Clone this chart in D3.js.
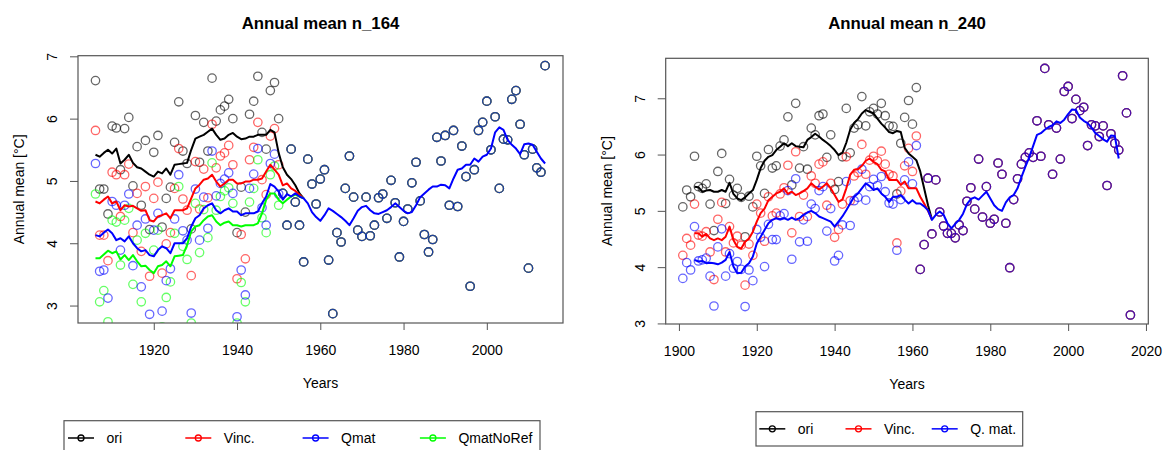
<!DOCTYPE html>
<html>
<head>
<meta charset="utf-8">
<script src="https://cdn.jsdelivr.net/npm/d3@7"></script>
<style>
  body { margin: 0; background: #fff; }
  text { font-family: "Liberation Sans", Arial, sans-serif; fill: #000; }
</style>
</head>
<body>
<svg id="chart" width="1165" height="450"></svg>
<script>
// ---- station n_164 : yearly annual means, one value per year ----
var n164Start = 1906;
var n164Ori = [6.61, 4.87, 4.87, 4.47, 5.88, 5.85, 5.18, 5.84, 6.02, 4.92,
               5.55, 4.61, 5.65, 4.22, 5.46, 5.73, 4.26, 4.72, 4.90, 5.62,
               6.27, 5.48, 5.28, 4.23, 6.05, 5.30, 5.94, 5.48, 6.65, 5.96,
               6.14, 6.20, 6.31, 6.00, 4.17, 4.90, 4.50, 6.07, 6.28, 6.68,
               5.78, 5.51, 6.45, 6.58, 6.00];
var n164Vinc = [5.81, 4.13, 4.13, 3.72, 5.14, 5.10, 4.43, 5.10, 5.27, 4.17,
                4.80, 3.87, 4.91, 3.47, 4.72, 4.98, 3.52, 3.99, 4.17, 4.88,
                5.52, 4.71, 4.53, 3.48, 5.31, 4.55, 5.19, 4.73, 5.91, 5.21,
                5.40, 5.45, 5.57, 5.26, 3.43, 4.14, 3.75, 5.34, 5.54, 5.94,
                5.02, 4.78, 5.72, 5.84, 5.26];
var n164Qmat = [5.28, 3.55, 3.57, 3.12, 4.67, 4.61, 3.89, 4.61, 4.79, 3.64,
                4.29, 3.30, 4.39, 2.86, 4.21, 4.48, 2.91, 3.40, 3.59, 4.39,
                5.10, 4.20, 4.05, 2.88, 4.87, 4.05, 4.74, 4.24, 5.48, 4.76,
                4.96, 5.03, 5.13, 4.80, 2.82, 3.57, 3.17, 4.88, 5.11, 5.52,
                4.57, 4.29, 5.28, 5.43, 4.79];
var n164NoRef = [4.79, 3.06, 3.24, 2.74, 4.37, 4.34, 3.65, 4.37, 4.56, 3.34,
                 4.05, 3.06, 4.16, 2.60, 3.89, 4.21, 2.66, 3.13, 3.38, 4.16,
                 4.91, 3.95, 3.74, 2.72, 4.64, 3.85, 4.54, 4.09, 5.29, 4.53,
                 4.75, 4.84, 4.89, 4.64, 2.72, 3.37, 3.06, 4.66, 4.88, 5.34,
                 4.41, 4.17, 5.10, 5.24, 4.61];
// after 1950 all four versions are identical
var n164CommonStart = 1951;
var n164Common = [4.80, 4.29, 5.51, 4.66, 4.29, 3.70, 5.35, 4.95, 4.63, 5.03,
                  5.18, 3.73, 2.87, 4.17, 4.02, 4.88, 5.40, 4.74, 4.21, 4.11,
                  4.74, 4.12, 4.29, 4.73, 4.79, 4.40, 5.01, 4.65, 3.78, 4.35,
                  4.55, 4.97, 5.30, 4.68, 4.14, 3.86, 4.06, 5.70, 5.32, 5.73,
                  4.61, 5.81, 4.59, 5.56, 5.07, 3.31, 5.18, 5.81, 5.94, 6.28,
                  5.50, 6.03, 4.88, 5.67, 5.66, 6.31, 6.45, 5.91, 5.42, 3.60,
                  5.51, 5.21, 5.14, 6.85];

// smoothed curves n_164
var n164LineStart = 1906;
var n164OriLine = [5.42, 5.39, 5.45, 5.50, 5.44, 5.52, 5.28, 5.34, 5.42, 5.29,
                   5.22, 5.20, 5.15, 5.10, 5.07, 5.15, 5.12, 5.20, 5.10, 5.26,
                   5.27, 5.28, 5.29, 5.50, 5.68, 5.71, 5.74, 5.79, 5.84, 5.74,
                   5.66, 5.68, 5.74, 5.77, 5.71, 5.67, 5.68, 5.71, 5.71, 5.74,
                   5.74, 5.74, 5.82, 5.78, 5.45, 5.22, 5.10, 5.03, 4.93, 4.80];
var n164VincLine = [4.67, 4.64, 4.70, 4.75, 4.64, 4.67, 4.53, 4.61, 4.59, 4.60,
                    4.56, 4.52, 4.53, 4.37, 4.35, 4.43, 4.45, 4.48, 4.40, 4.53,
                    4.53, 4.53, 4.56, 4.72, 4.88, 4.94, 5.02, 5.04, 5.10, 4.99,
                    4.91, 4.96, 5.02, 5.02, 4.96, 4.96, 4.99, 4.99, 5.02, 5.02,
                    5.04, 5.15, 5.26, 5.18, 5.10, 4.93, 4.96, 4.88, 4.84, 4.78];
var n164QmatLine = [4.13, 4.11, 4.17, 4.22, 4.16, 4.05, 4.08, 4.03, 4.11, 4.00,
                    3.92, 3.87, 3.89, 3.81, 3.79, 3.89, 3.95, 3.92, 3.84, 4.00,
                    4.00, 4.00, 4.08, 4.27, 4.40, 4.45, 4.56, 4.61, 4.64, 4.53,
                    4.48, 4.53, 4.56, 4.51, 4.51, 4.45, 4.48, 4.48, 4.48, 4.51,
                    4.64, 4.75, 4.95, 4.91, 4.83, 4.70, 4.79, 4.75, 4.80, 4.75];
var n164NoRefLine = [3.76, 3.76, 3.82, 3.88, 3.84, 3.87, 3.74, 3.81, 3.73, 3.81,
                     3.71, 3.63, 3.64, 3.57, 3.52, 3.63, 3.65, 3.71, 3.63, 3.79,
                     3.80, 3.81, 3.97, 4.19, 4.27, 4.29, 4.37, 4.43, 4.45, 4.35,
                     4.29, 4.33, 4.35, 4.29, 4.29, 4.27, 4.29, 4.29, 4.29, 4.32,
                     4.48, 4.70, 4.80, 4.80, 4.70, 4.64, 4.70, 4.75, 4.78, 4.75];
var n164CommonLineStart = 1956;
var n164CommonLine = [4.72, 4.64, 4.50, 4.42, 4.36, 4.45, 4.56, 4.52, 4.47, 4.42,
                      4.36, 4.29, 4.40, 4.52, 4.58, 4.60, 4.53, 4.48, 4.47, 4.50,
                      4.53, 4.58, 4.64, 4.58, 4.52, 4.48, 4.50, 4.61, 4.74, 4.80,
                      4.86, 4.91, 4.91, 4.94, 4.93, 4.88, 5.04, 5.18, 5.20, 5.26,
                      5.26, 5.36, 5.31, 5.39, 5.42, 5.52, 5.78, 5.86, 5.82, 5.66,
                      5.58, 5.52, 5.43, 5.59, 5.60, 5.58, 5.47, 5.36, 5.28];

// ---- station n_240 ----
var n240Start = 1901;
var n240Ori = [5.07, 5.37, 5.25, 5.97, 5.43, 5.40, 5.48, 5.12, 4.65, 5.70,
               6.02, 5.13, 5.56, 5.28, 5.40, 5.24, 4.54, 5.26, 5.07, 5.97,
               5.80, 5.31, 6.09, 5.76, 5.80, 6.15, 6.26, 6.67, 5.46, 6.91,
               5.76, 6.14, 5.74, 6.47, 6.35, 6.69, 6.72, 5.95, 6.35, 5.38,
               5.52, 5.96, 6.82, 6.03, 6.47, 6.53, 7.03, 6.51, 6.76, 6.82,
               6.72, 6.91, 6.69, 6.51, 6.50, 5.30, 6.20, 6.66, 6.96, 6.54,
               7.19];
var n240Vinc = [4.21, 4.51, 4.39, 5.12, 4.57, 4.55, 4.63, 4.27, 3.78, 4.85,
                5.15, 4.27, 4.72, 4.43, 4.55, 4.39, 3.68, 4.41, 4.21, 5.12,
                4.96, 4.46, 5.25, 4.91, 4.96, 5.30, 5.41, 5.81, 4.61, 6.05,
                4.90, 5.28, 4.90, 5.62, 5.49, 5.83, 5.87, 5.10, 5.49, 4.53,
                4.67, 5.12, 5.96, 5.18, 5.62, 5.68, 6.18, 5.65, 5.90, 5.97,
                5.89, 6.06, 5.83, 5.65, 5.62, 4.43, 5.35, 5.80, 6.11, 5.70,
                6.33];
var n240Qmat = [3.80, 4.08, 3.95, 4.72, 4.11, 4.13, 4.16, 3.84, 3.31, 4.36,
                4.68, 3.84, 4.24, 3.98, 4.10, 3.96, 3.30, 3.95, 3.76, 4.67,
                4.53, 4.01, 4.76, 4.49, 4.49, 4.91, 4.95, 5.36, 4.14, 5.57,
                4.45, 4.84, 4.46, 5.12, 5.04, 5.36, 5.43, 4.64, 5.04, 4.11,
                4.21, 4.75, 5.52, 4.74, 5.18, 5.24, 5.74, 5.19, 5.43, 5.56,
                5.45, 5.61, 5.34, 5.14, 5.12, 4.30, 5.20, 5.55, 5.87, 5.48,
                6.16];
var n240CommonStart = 1962;
var n240Common = [3.96, 4.40, 5.58, 4.59, 5.55, 4.98, 4.73, 4.60, 4.60, 4.52,
                  4.75, 4.65, 5.17, 5.41, 5.03, 5.92, 4.89, 5.43, 4.78, 4.85,
                  5.85, 5.65, 4.78, 3.99, 5.20, 5.57, 5.83, 5.95, 6.03, 5.95,
                  6.60, 5.97, 7.53, 6.53, 5.65, 6.47, 5.92, 7.12, 7.21, 6.64,
                  6.98, 6.78, 6.84, 6.16, 6.53, 6.51, 6.32, 6.51, 5.45, 6.37,
                  6.20, 6.08, 7.40, 6.74, 3.15];

// smoothed curves n_240
var n240LineStart = 1904;
var n240OriLine = [5.43, 5.42, 5.34, 5.36, 5.37, 5.34, 5.34, 5.37, 5.34, 5.50,
                   5.30, 5.22, 5.19, 5.24, 5.31, 5.37, 5.55, 5.76, 5.89, 5.96,
                   5.99, 6.08, 6.14, 6.20, 6.15, 6.20, 6.15, 6.14, 6.13, 6.26,
                   6.31, 6.37, 6.32, 6.26, 6.21, 6.15, 6.08, 5.99, 6.03, 6.21,
                   6.44, 6.56, 6.63, 6.73, 6.79, 6.76, 6.73, 6.64, 6.55, 6.48,
                   6.40, 6.38, 6.42, 6.40, 6.12, 6.02, 5.96, 5.90, 5.70, 5.40,
                   5.10, 4.85];
var n240VincLine = [4.60, 4.60, 4.54, 4.59, 4.51, 4.48, 4.51, 4.48, 4.54, 4.72,
                    4.48, 4.36, 4.33, 4.45, 4.51, 4.63, 4.81, 4.96, 5.04, 5.19,
                    5.25, 5.31, 5.34, 5.40, 5.30, 5.34, 5.28, 5.31, 5.35, 5.40,
                    5.49, 5.43, 5.38, 5.43, 5.49, 5.40, 5.28, 5.16, 5.20, 5.40,
                    5.64, 5.73, 5.74, 5.80, 5.89, 5.93, 5.87, 5.83, 5.73, 5.70,
                    5.55, 5.55, 5.55, 5.46, 5.52, 5.40, 5.40, 5.40, 5.25, 5.13,
                    5.00, 4.85];
var n240QmatLine = [4.13, 4.10, 4.11, 4.07, 4.08, 4.07, 4.05, 4.08, 4.13, 4.27,
                    4.01, 3.89, 3.90, 4.01, 4.07, 4.19, 4.42, 4.54, 4.66, 4.78,
                    4.84, 4.87, 4.85, 4.87, 4.84, 4.88, 4.84, 4.87, 4.93, 4.97,
                    5.00, 4.96, 4.90, 4.87, 4.84, 4.81, 4.72, 4.81, 4.90, 5.01,
                    5.13, 5.25, 5.31, 5.40, 5.49, 5.44, 5.37, 5.40, 5.31, 5.25,
                    5.16, 5.25, 5.25, 5.28, 5.20, 5.13, 5.19, 5.13, 5.13, 5.08,
                    5.01, 4.84];
var n240CommonLineStart = 1966;
var n240CommonLine = [4.93, 4.99, 4.93, 4.78, 4.69, 4.77, 4.84, 4.95, 5.12, 5.21,
                      5.24, 5.20, 5.27, 5.34, 5.22, 5.10, 5.03, 5.00, 5.15, 5.24,
                      5.28, 5.40, 5.60, 5.78, 5.95, 6.15, 6.35, 6.38, 6.44, 6.49,
                      6.52, 6.59, 6.56, 6.62, 6.72, 6.80, 6.79, 6.66, 6.60, 6.56,
                      6.48, 6.38, 6.33, 6.27, 6.23, 6.34, 6.33, 5.93];

// ticks and labels
var n164XTicks = [1920, 1940, 1960, 1980, 2000];
var n240XTicks = [1900, 1920, 1940, 1960, 1980, 2000, 2020];
var yTicks = [3, 4, 5, 6, 7];
var n164Labels = ["ori", "Vinc.", "Qmat", "QmatNoRef"];
var n240Labels = ["ori", "Vinc.", "Q. mat."];
var colors = ["#000000", "#ff0000", "#0000ff", "#00ff00"];

var svg = d3.select("#chart");

function toSeries(start, vals) {
  return vals.map(function(v, i) { return {year: start + i, val: v}; });
}

function drawPanel(p) {
  // scales
  var x = d3.scaleLinear().domain(p.xDomain).range([p.left, p.right]);
  var y = d3.scaleLinear().domain(p.yDomain).range([p.bottom, p.top]);

  svg.append("clipPath").attr("id", p.id + "-clip")
    .append("rect")
      .attr("x", p.left).attr("y", p.top)
      .attr("width", p.right - p.left).attr("height", p.bottom - p.top);

  var plot = svg.append("g").attr("clip-path", "url(#" + p.id + "-clip)");

  // Add dots
  p.pointOrder.forEach(function(s) {
    plot.append("g").selectAll("circle")
      .data(s.points)
      .enter()
      .append("circle")
        .attr("cx", function(d) { return x(d.year); })
        .attr("cy", function(d) { return y(d.val); })
        .attr("r", 4.2)
        .attr("fill", "none")
        .attr("stroke", s.color)
        .attr("stroke-opacity", 0.6)
        .attr("stroke-width", 1.3);
  });

  // Add smoothed lines
  var line = d3.line()
    .x(function(d) { return x(d.year); })
    .y(function(d) { return y(d.val); });
  p.lineOrder.forEach(function(s) {
    plot.append("path")
      .datum(s.line)
      .attr("d", line)
      .attr("fill", "none")
      .attr("stroke", s.color)
      .attr("stroke-width", 2)
      .attr("stroke-linejoin", "round");
  });

  // box
  svg.append("rect")
    .attr("x", p.left).attr("y", p.top)
    .attr("width", p.right - p.left).attr("height", p.bottom - p.top)
    .attr("fill", "none")
    .attr("stroke", "#555")
    .attr("stroke-width", 1.2);

  // Add X axis
  var gx = svg.append("g")
    .attr("transform", "translate(0," + p.bottom + ")")
    .call(d3.axisBottom(x).tickValues(p.xTicks).tickSize(7).tickSizeOuter(0).tickFormat(d3.format("d")));
  gx.select(".domain").remove();
  gx.selectAll(".tick line").attr("stroke", "#555");
  gx.selectAll(".tick text")
    .attr("y", 27.5).attr("dy", "0.35em")
    .style("font-size", "14px").style("font-family", "Liberation Sans, Arial, sans-serif");

  // Add Y axis
  var gy = svg.append("g")
    .attr("transform", "translate(" + p.left + ",0)")
    .call(d3.axisLeft(y).tickValues(yTicks).tickSize(8).tickSizeOuter(0).tickFormat(d3.format("d")));
  gy.select(".domain").remove();
  gy.selectAll(".tick line").attr("stroke", "#555");
  gy.selectAll(".tick text")
    .attr("x", null).attr("dy", "0.35em")
    .attr("text-anchor", "middle")
    .attr("transform", "translate(-26,0) rotate(-90)")
    .style("font-size", "14px").style("font-family", "Liberation Sans, Arial, sans-serif");

  // titles
  var cx = (p.left + p.right) / 2;
  svg.append("text")
    .attr("x", cx).attr("y", 22.7).attr("dy", "0.35em")
    .attr("text-anchor", "middle")
    .style("font-size", "16.8px").style("font-weight", "bold")
    .text(p.title);
  svg.append("text")
    .attr("x", cx).attr("y", p.bottom + 60.5).attr("dy", "0.35em")
    .attr("text-anchor", "middle")
    .style("font-size", "14px")
    .text("Years");
  svg.append("text")
    .attr("transform", "translate(" + (p.left - 59) + "," + ((p.top + p.bottom) / 2) + ") rotate(-90)")
    .attr("dy", "0.35em")
    .attr("text-anchor", "middle")
    .style("font-size", "14px")
    .text("Annual mean [°C]");

  // legend
  var lg = p.legend;
  var cy = lg.y + lg.h / 2;
  svg.append("rect")
    .attr("x", lg.x).attr("y", lg.y).attr("width", lg.w).attr("height", lg.h)
    .attr("fill", "none").attr("stroke", "#555").attr("stroke-width", 1.2);
  p.legendItems.forEach(function(s, i) {
    var x0 = lg.x + lg.pad + i * lg.step;
    svg.append("line")
      .attr("x1", x0).attr("x2", x0 + 26).attr("y1", cy).attr("y2", cy)
      .attr("stroke", s.color).attr("stroke-width", 1.5);
    svg.append("circle")
      .attr("cx", x0 + 13).attr("cy", cy).attr("r", 3)
      .attr("fill", "none").attr("stroke", s.color).attr("stroke-width", 1.3);
    svg.append("text")
      .attr("x", x0 + 38.5).attr("y", cy).attr("dy", "0.35em")
      .style("font-size", "14px")
      .text(s.label);
  });
}

// ---- build the n_164 panel ----
var n164Common_pts = toSeries(n164CommonStart, n164Common);
var n164Joint = toSeries(n164CommonLineStart, n164CommonLine);
var n164Series = [n164Ori, n164Vinc, n164Qmat, n164NoRef].map(function(vals, i) {
  return {
    label: n164Labels[i],
    color: colors[i],
    points: toSeries(n164Start, vals).concat(n164Common_pts),
    line: toSeries(n164LineStart, [n164OriLine, n164VincLine, n164QmatLine, n164NoRefLine][i])
  };
});
n164Series.forEach(function(s, i) {
  s.line = i == 2 ? s.line.concat(n164Joint) : s.line.concat(n164Joint.slice(0, 1));
});

drawPanel({
  id: "n164",
  left: 78, right: 563, top: 55.7, bottom: 323,
  xDomain: [1901.8, 2018.3], yDomain: [2.72, 7.01],
  xTicks: n164XTicks,
  title: "Annual mean n_164",
  pointOrder: [n164Series[0], n164Series[1], n164Series[3], n164Series[2]],
  lineOrder: [n164Series[0], n164Series[1], n164Series[3], n164Series[2]],
  legendItems: n164Series,
  legend: {x: 64, y: 420.7, w: 476, h: 34.6, pad: 4, step: 117.3}
});

// ---- build the n_240 panel ----
var n240Common_pts = toSeries(n240CommonStart, n240Common);
var n240Joint = toSeries(n240CommonLineStart, n240CommonLine);
var n240Series = [n240Ori, n240Vinc, n240Qmat].map(function(vals, i) {
  return {
    label: n240Labels[i],
    color: colors[i],
    points: toSeries(n240Start, vals).concat(n240Common_pts),
    line: toSeries(n240LineStart, [n240OriLine, n240VincLine, n240QmatLine][i])
  };
});
n240Series[2].line = n240Series[2].line.concat(n240Joint);

drawPanel({
  id: "n240",
  left: 665.7, right: 1148.3, top: 58.3, bottom: 324,
  xDomain: [1896.6, 2020.6], yDomain: [2.99, 7.71],
  xTicks: n240XTicks,
  title: "Annual mean n_240",
  pointOrder: n240Series,
  lineOrder: n240Series,
  legendItems: n240Series,
  legend: {x: 756, y: 411.7, w: 266.7, h: 34.3, pad: 3.3, step: 86.2}
});
</script>
</body>
</html>
